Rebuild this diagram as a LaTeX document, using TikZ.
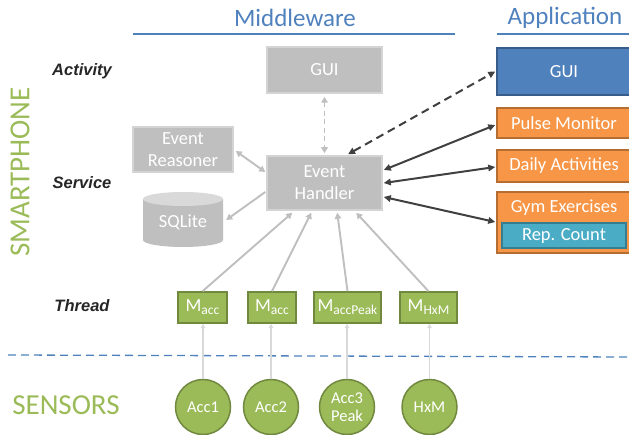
\documentclass[tikz,border=0pt]{standalone}
\usepackage{fontspec}
\setmainfont{Carlito}
\newfontfamily\lblfont{Liberation Sans}
\usetikzlibrary{arrows.meta,calc}
\definecolor{titleblue}{HTML}{4F81BD}
\definecolor{boxgray}{HTML}{BFBFBF}
\definecolor{boxedge}{HTML}{D4D4D4}
\definecolor{boxlight}{HTML}{D9D9D9}
\definecolor{arrowgray}{HTML}{BFBFBF}
\definecolor{thinarrow}{HTML}{D9D9D9}
\definecolor{darkline}{HTML}{404040}
\definecolor{appblue}{HTML}{4F81BD}
\definecolor{appblueedge}{HTML}{385D8A}
\definecolor{apporange}{HTML}{F79646}
\definecolor{apporangeedge}{HTML}{B66D31}
\definecolor{appteal}{HTML}{4BACC6}
\definecolor{apptealedge}{HTML}{357D91}
\definecolor{mgreen}{HTML}{9BBB59}
\definecolor{mgreenedge}{HTML}{71893F}
\begin{document}
\begin{tikzpicture}[x=1pt,y=-1pt,
  graybox/.style={draw=boxedge, line width=1.5pt, fill=boxgray, text=white, inner sep=0pt, align=center, font=\fontsize{18.5}{22}\selectfont},
  bluebox/.style={draw=appblueedge, line width=1.5pt, fill=appblue, text=white, inner sep=0pt, align=center, font=\fontsize{18.5}{22}\selectfont},
  orangebox/.style={draw=apporangeedge, line width=1.5pt, fill=apporange, text=white, inner sep=0pt, align=center, font=\fontsize{18.5}{22}\selectfont},
  tealbox/.style={draw=apptealedge, line width=1.5pt, fill=appteal, text=white, inner sep=0pt, align=center, font=\fontsize{18.5}{22}\selectfont},
  threadbox/.style={draw=mgreenedge, line width=1.5pt, fill=mgreen, text=white, inner sep=0pt, minimum height=31pt},
  sensor/.style={circle, draw=mgreenedge, line width=1.5pt, fill=mgreen, text=white, inner sep=0pt, minimum size=55pt, align=center, font=\fontsize{16.5}{18}\selectfont},
  title/.style={text=titleblue, font=\fontsize{25}{30}\selectfont},
  layerlbl/.style={font=\lblfont\bfseries\itshape\fontsize{16.5}{20}\selectfont, text=black!85},
  greenlbl/.style={text=mgreen, font=\fontsize{29}{34}\selectfont},
  garrow/.style={draw=arrowgray, line width=1.9pt, -{Triangle[length=6pt,width=6.5pt]}},
  gdarrow/.style={draw=arrowgray, line width=1.9pt, {Triangle[length=6pt,width=6.5pt]}-{Triangle[length=6pt,width=6.5pt]}},
  tarrow/.style={draw=thinarrow, line width=1.3pt, -{Triangle[length=4.5pt,width=4.5pt]}},
  darrow/.style={draw=darkline, line width=2pt, {Triangle[length=7pt,width=6.5pt]}-{Triangle[length=7pt,width=6.5pt]}}
]
\useasboundingbox (0,0) rectangle (629,435);

% titles
\node[title] (tmid) at (295,18) {Middleware};
\node[title] (tapp) at (565,18) {Application};
\draw[titleblue, line width=1.8pt] (133,34) -- (455,34);
\draw[titleblue, line width=1.8pt] (497,34) -- (629,34);

% layer labels
\node[layerlbl] (lact) at (82,71) {Activity};
\node[layerlbl] (lser) at (82,183) {Service};
\node[layerlbl] (lthr) at (82,306) {Thread};
\node[greenlbl, rotate=90] (lsmart) at (20,172) {SMARTPHONE};
\node[greenlbl] (lsens) at (66,405) {SENSORS};

% separator
\draw[titleblue, line width=1.3pt, dash pattern=on 8pt off 5pt] (8,355) -- (629,357);

% middleware
\node[graybox, minimum width=115pt, minimum height=46pt] (mgui) at (324.5,70) {GUI};
\node[graybox, minimum width=100pt, minimum height=45pt] (er) at (183,149.5) {Event\\Reasoner};
\node[graybox, minimum width=115pt, minimum height=54pt] (eh) at (324.5,183) {Event\\Handler};

% SQLite cylinder
\fill[boxgray] (143,199) -- (143,240) arc[start angle=180, end angle=0, x radius=40, y radius=7] -- (223,199) -- cycle;
\fill[boxlight] (183,199) ellipse[x radius=40, y radius=7];
\node[text=white, inner sep=0pt, minimum width=80pt, minimum height=56pt, font=\fontsize{18.5}{22}\selectfont] (sql) at (183,222) {SQLite};

% application
\node[bluebox, minimum width=134pt, minimum height=47pt] (agui) at (564,71.5) {GUI};
\node[orangebox, minimum width=134pt, minimum height=30pt] (pm) at (564,123) {Pulse Monitor};
\node[orangebox, minimum width=134pt, minimum height=32pt] (da) at (564,166) {Daily Activities};
\node[orangebox, minimum width=134pt, minimum height=61pt] (gym) at (564,222.5) {};
\node[text=white, inner sep=0pt, font=\fontsize{18.5}{22}\selectfont] (gymt) at (564,208) {Gym Exercises};
\node[tealbox, minimum width=124pt, minimum height=25pt] (rep) at (564,235.5) {Rep. Count};

% threads
\newcommand{\mthr}[1]{{\fontsize{18.5}{20}\selectfont M}{\fontsize{13.5}{14}\selectfont\raisebox{-3pt}{#1}}}
\node[threadbox, minimum width=49pt] (t1) at (202.5,307.5) {\mthr{acc}};
\node[threadbox, minimum width=48pt] (t2) at (272,307.5) {\mthr{acc}};
\node[threadbox, minimum width=67pt] (t3) at (347.5,307.5) {\mthr{accPeak}};
\node[threadbox, minimum width=57pt] (t4) at (428.5,307.5) {\mthr{HxM}};

% sensors
\node[sensor] (s1) at (203,407) {Acc1};
\node[sensor] (s2) at (271,407) {Acc2};
\node[sensor] (s3) at (347,407) {Acc3\\Peak};
\node[sensor] (s4) at (429.5,407) {HxM};

% sensor -> thread
\draw[tarrow] (s1.north) -- (s1.north |- t1.south);
\draw[tarrow] (s2.north) -- (s2.north |- t2.south);
\draw[tarrow] (s3.north) -- (s3.north |- t3.south);
\draw[tarrow] (s4.north) -- (s4.north |- t4.south);

% thread -> handler
\draw[garrow] (t1.north) -- ($(eh.south west)+(26,2)$);
\draw[garrow] (t2.north) -- ($(eh.south west)+(45,2)$);
\draw[garrow] (t3.north) -- ($(eh.south west)+(71,2)$);
\draw[garrow] (t4.north) -- ($(eh.south west)+(90,2)$);

% middleware internal
\draw[gdarrow, dash pattern=on 5pt off 3.5pt] ($(mgui.south)+(0,3)$) -- ($(eh.north)+(0,-2)$);
\draw[gdarrow] ($(er.east)+(2,1.5)$) -- ($(eh.west)+(-1,-11)$);
\draw[garrow] ($(eh.west)+(-1,9)$) -- ($(sql.east)+(3,-2)$);

% handler <-> applications
\draw[darrow, dash pattern=on 8pt off 5pt] ($(eh.north)+(23.5,-1)$) -- ($(agui.west)+(-1,0)$);
\draw[darrow] ($(eh.east)+(1,-13)$) -- ($(pm.west)+(-1,2)$);
\draw[darrow] ($(eh.east)+(1,0)$) -- ($(da.west)+(-1,1)$);
\draw[darrow] ($(eh.east)+(1,14)$) -- ($(gym.west)+(-1,-0.5)$);
\end{tikzpicture}
\end{document}
